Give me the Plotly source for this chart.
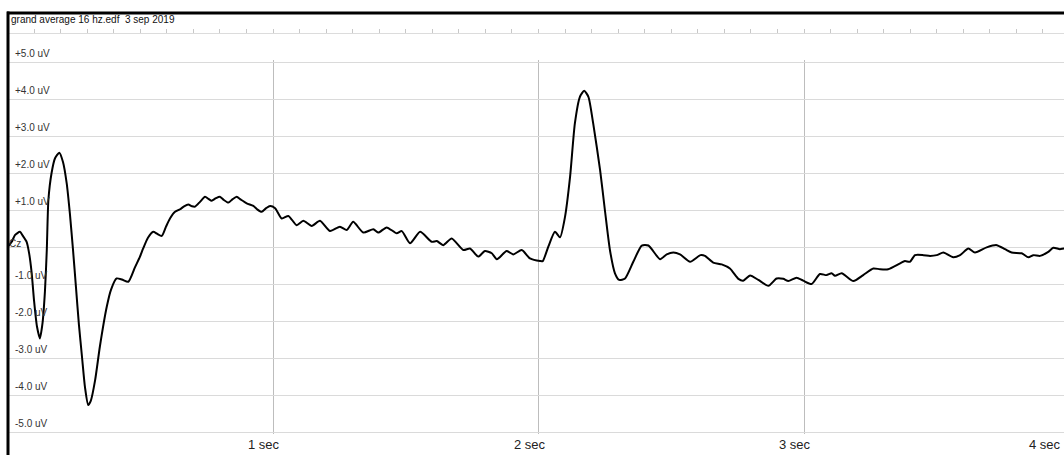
import plotly.graph_objects as go

# Averaged EEG trace (Cz), time in seconds, amplitude in microvolts
time_s = [
    0.000, 0.016, 0.028, 0.047, 0.058, 0.072, 0.081, 0.091, 0.100, 0.111,
    0.122, 0.132, 0.141, 0.148, 0.154, 0.166, 0.179, 0.195, 0.209, 0.223,
    0.235, 0.247, 0.258, 0.269, 0.281, 0.292, 0.304, 0.314, 0.330, 0.348,
    0.374, 0.390, 0.411, 0.431, 0.455, 0.480, 0.499, 0.511, 0.529, 0.549,
    0.563, 0.581, 0.597, 0.612, 0.631, 0.650, 0.665, 0.681, 0.695, 0.706,
    0.725, 0.744, 0.757, 0.769, 0.785, 0.800, 0.815, 0.832, 0.846, 0.863,
    0.879, 0.901, 0.926, 0.940, 0.957, 0.974, 0.989, 1.008, 1.033, 1.058,
    1.089, 1.114, 1.146, 1.177, 1.215, 1.252, 1.278, 1.302, 1.340, 1.378,
    1.397, 1.428, 1.466, 1.485, 1.516, 1.554, 1.598, 1.617, 1.641, 1.673,
    1.717, 1.742, 1.773, 1.798, 1.824, 1.843, 1.880, 1.905, 1.937, 1.968,
    2.006, 2.016, 2.037, 2.062, 2.081, 2.100, 2.119, 2.137, 2.156, 2.172,
    2.188, 2.206, 2.232, 2.250, 2.269, 2.288, 2.304, 2.326, 2.357, 2.389,
    2.414, 2.458, 2.483, 2.508, 2.533, 2.571, 2.610, 2.627, 2.658, 2.690,
    2.721, 2.753, 2.771, 2.797, 2.828, 2.866, 2.897, 2.922, 2.941, 2.972,
    2.997, 3.029, 3.060, 3.085, 3.104, 3.117, 3.142, 3.186, 3.223, 3.261,
    3.286, 3.317, 3.362, 3.380, 3.399, 3.418, 3.450, 3.475, 3.500, 3.525,
    3.562, 3.588, 3.619, 3.644, 3.688, 3.726, 3.757, 3.782, 3.820, 3.845,
    3.864, 3.889, 3.920, 3.939, 3.964, 3.979, 4.000,
]
amplitude_uv = [
    0.00, 0.14, 0.32, 0.41, 0.30, 0.14, -0.15, -0.70, -1.45, -2.15,
    -2.47, -2.05, -1.20, -0.08, 1.27, 2.00, 2.40, 2.55, 2.30, 1.72,
    0.90, -0.10, -1.10, -2.10, -3.00, -3.80, -4.27, -4.15, -3.60, -2.69,
    -1.61, -1.15, -0.85, -0.88, -0.94, -0.55, -0.26, -0.04, 0.25, 0.41,
    0.36, 0.30, 0.55, 0.77, 0.95, 1.02, 1.10, 1.15, 1.10, 1.09,
    1.22, 1.36, 1.30, 1.25, 1.32, 1.36, 1.27, 1.20, 1.28, 1.36,
    1.28, 1.18, 1.11, 1.02, 0.95, 1.05, 1.11, 1.05, 0.77, 0.84,
    0.59, 0.71, 0.57, 0.71, 0.43, 0.55, 0.46, 0.68, 0.39, 0.48,
    0.39, 0.53, 0.37, 0.43, 0.10, 0.41, 0.14, 0.16, 0.05, 0.23,
    -0.08, -0.04, -0.26, -0.11, -0.17, -0.33, -0.11, -0.20, -0.08, -0.31,
    -0.38, -0.38, 0.01, 0.41, 0.26, 0.82, 1.90, 3.34, 4.06, 4.22,
    4.06, 3.34, 2.08, 1.00, -0.08, -0.71, -0.89, -0.85, -0.40, 0.04,
    0.04, -0.33, -0.20, -0.15, -0.20, -0.40, -0.22, -0.24, -0.42, -0.47,
    -0.58, -0.86, -0.91, -0.77, -0.89, -1.05, -0.85, -0.86, -0.92, -0.83,
    -0.91, -1.00, -0.73, -0.76, -0.71, -0.78, -0.71, -0.92, -0.76, -0.58,
    -0.60, -0.60, -0.44, -0.38, -0.40, -0.22, -0.22, -0.24, -0.22, -0.15,
    -0.28, -0.22, -0.04, -0.15, -0.01, 0.05, -0.06, -0.15, -0.17, -0.28,
    -0.22, -0.24, -0.13, -0.02, -0.06, -0.04, -0.05,
]

y_ticks = [5, 4, 3, 2, 1, -1, -2, -3, -4, -5]
y_tick_labels = ["+5.0 uV", "+4.0 uV", "+3.0 uV", "+2.0 uV", "+1.0 uV",
                 "-1.0 uV", "-2.0 uV", "-3.0 uV", "-4.0 uV", "-5.0 uV"]
x_ticks = [1, 2, 3, 4]
x_tick_labels = ["1 sec", "2 sec", "3 sec", "4 sec"]

title_text = "grand average 16 hz.edf  3 sep 2019"
channel_name = "Cz"

W, H = 1064, 455
PX_PER_SEC = 265.5
PX_PER_UV = 37.0
X0_PX = 7.5      # pixel column of t = 0
Y0_PX = 247.0    # pixel row of 0 uV
LEFT_PX = 8.0
TOP_PX, BOTTOM_PX = 60.0, 434.0

x_range = [(LEFT_PX - X0_PX) / PX_PER_SEC, (W - X0_PX) / PX_PER_SEC]
y_range = [(Y0_PX - BOTTOM_PX) / PX_PER_UV, (Y0_PX - TOP_PX) / PX_PER_UV]
y_domain = [(H - BOTTOM_PX) / H, (H - TOP_PX) / H]

font_main = "Liberation Sans, Arial, sans-serif"

fig = go.Figure()
fig.add_trace(go.Scatter(
    x=time_s, y=amplitude_uv, mode="lines",
    line=dict(color="#000000", width=2, shape="spline", smoothing=0.6),
    showlegend=False, hoverinfo="skip",
))
# empty trace so the top time ruler axis is rendered
fig.add_trace(go.Scatter(x=[], y=[], xaxis="x2", showlegend=False))

annotations = []
for v, lab in zip(y_ticks, y_tick_labels):
    annotations.append(dict(
        x=13 / W, xref="paper", y=v, yref="y", text=lab, showarrow=False,
        xanchor="left", yanchor="bottom", yshift=1,
        font=dict(family=font_main, size=10, color="#333333"),
    ))
# second labels sit under the plot, a little left of their grid line;
# a label that would run past the right edge is pinned inside it
LABEL_HALF_W = 16
for t, lab in zip(x_ticks, x_tick_labels):
    cx = X0_PX + t * PX_PER_SEC - 9
    if cx + LABEL_HALF_W > W - 1:
        ax, anchor = (W - 1) / W, "right"
    else:
        ax, anchor = cx / W, "center"
    annotations.append(dict(
        x=ax, xref="paper",
        y=(H - 444) / H, yref="paper", text=lab, showarrow=False,
        xanchor=anchor, yanchor="middle",
        font=dict(family=font_main, size=13, color="#222222"),
    ))
annotations.append(dict(
    x=9 / W, xref="paper", y=(H - 19.5) / H, yref="paper", text=title_text,
    showarrow=False, xanchor="left", yanchor="middle",
    font=dict(family=font_main, size=10, color="#111111"),
))
annotations.append(dict(
    x=7 / W, xref="paper", y=0, yref="y", text=channel_name, showarrow=False,
    xanchor="left", yanchor="middle", yshift=4,
    font=dict(family=font_main, size=10, color="#333333"),
))

shapes = [
    # top frame edge
    dict(type="line", xref="paper", yref="paper", x0=7 / W, x1=1.0,
         y0=(H - 13) / H, y1=(H - 13) / H, line=dict(color="#000000", width=3)),
    # left frame edge
    dict(type="line", xref="paper", yref="paper", x0=8 / W, x1=8 / W,
         y0=0, y1=(H - 11.5) / H, line=dict(color="#000000", width=3)),
]

fig.update_layout(
    width=W, height=H,
    margin=dict(l=0, r=0, t=0, b=0),
    paper_bgcolor="white", plot_bgcolor="white",
    xaxis=dict(
        domain=[LEFT_PX / W, 1.0], range=x_range,
        tickmode="array", tickvals=x_ticks, showticklabels=False,
        showgrid=True, gridcolor="#bdbdbd", gridwidth=1.3,
        zeroline=False, showline=False, ticks="",
    ),
    xaxis2=dict(
        overlaying="x", matches="x", anchor="free",
        position=(H - 33) / H, side="top",
        showline=True, linecolor="#dcdcdc", linewidth=1,
        ticks="outside", ticklen=4, tickcolor="#c8c8c8", tickwidth=1,
        tick0=0, dtick=0.1, showticklabels=False, showgrid=False, zeroline=False,
    ),
    yaxis=dict(
        domain=y_domain, range=y_range,
        tick0=0, dtick=1, showticklabels=False,
        showgrid=True, gridcolor="#dadada", gridwidth=1,
        zeroline=False, showline=False, ticks="",
    ),
    annotations=annotations,
    shapes=shapes,
)

fig.write_html("out.html")
